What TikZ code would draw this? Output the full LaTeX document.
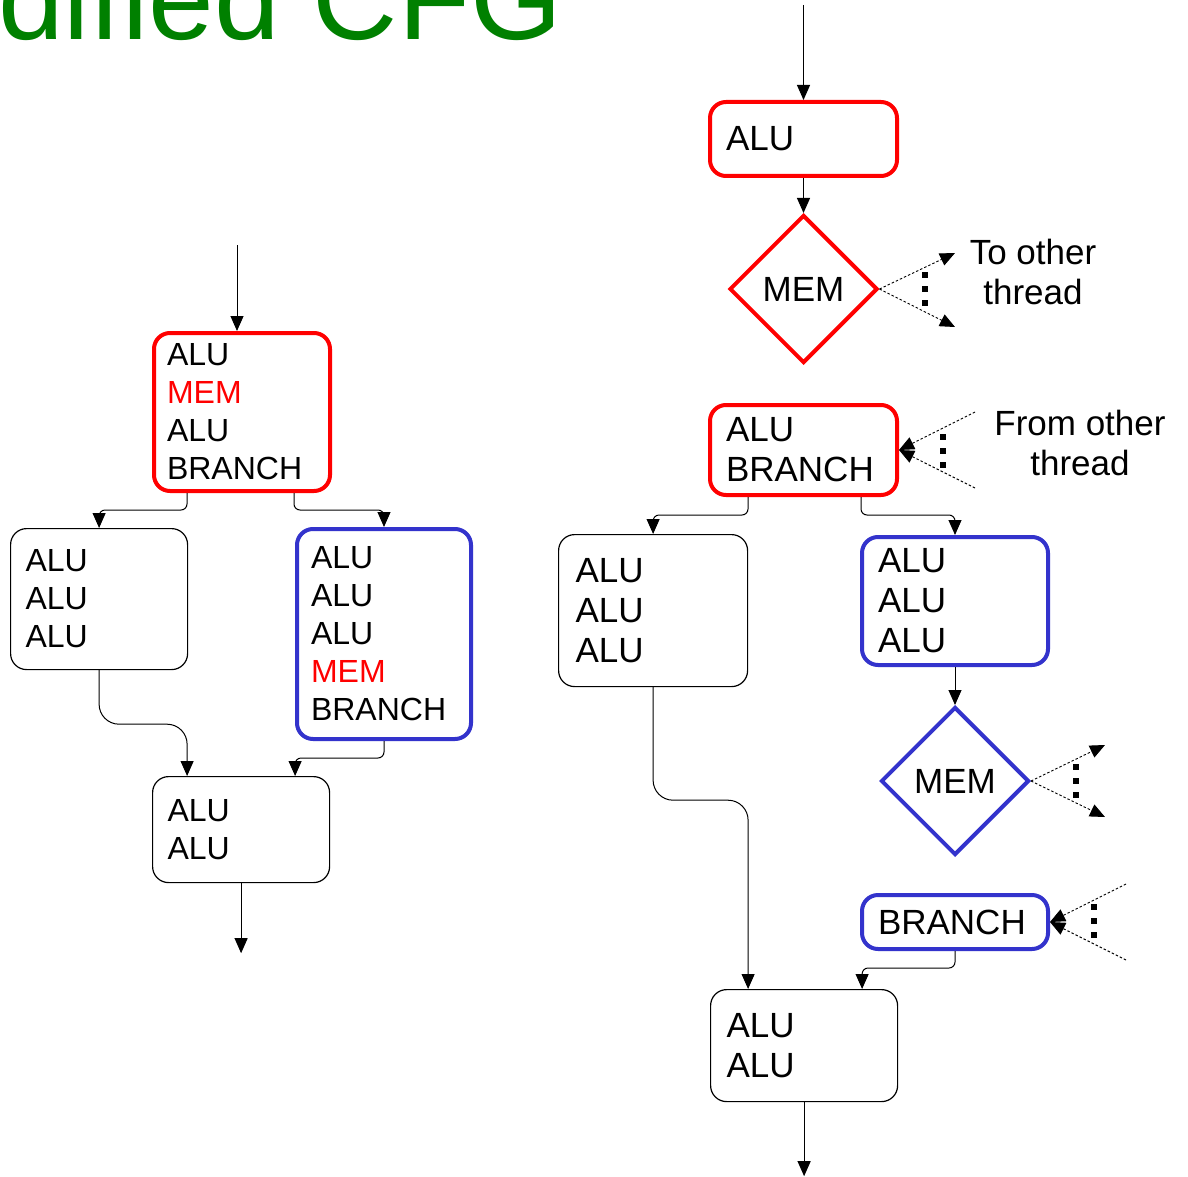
\documentclass[tikz,border=0pt]{standalone}
\usepackage{fontspec}
\setmainfont{Liberation Sans}
\usetikzlibrary{arrows.meta,shapes.geometric}
\definecolor{cfgred}{RGB}{255,0,0}
\definecolor{cfgblue}{RGB}{51,51,204}
\definecolor{cfggreen}{RGB}{0,128,0}
\newcommand\leftsz{\fontsize{32}{38}\selectfont}
\newcommand\rightsz{\fontsize{35}{40}\selectfont}

\begin{document}
\begin{tikzpicture}[x=1pt,y=-1pt,
  blk/.style={draw, rounded corners=16pt, anchor=north west, align=left, inner ysep=0pt},
  thinblk/.style={blk, draw=black, line width=1.2pt},
  redblk/.style={blk, draw=cfgred, line width=4pt},
  blueblk/.style={blk, draw=cfgblue, line width=4pt},
  memdia/.style={diamond, draw, line width=4pt, minimum size=148pt, inner sep=0pt, font=\rightsz},
  arr/.style={-{Triangle[width=13pt,length=15pt]}, line width=1pt},
  link/.style={arr, rounded corners=6pt},
  sbend/.style={arr, rounded corners=20pt},
  threadarr/.style={-{Triangle[width=13pt,length=15pt]}, line width=0.9pt, dash pattern=on 2.5pt off 2pt},
  sqdots/.style={line width=6pt, dash pattern=on 6pt off 8pt},
  note/.style={align=center, font=\rightsz, inner sep=0pt}
]
\fill[white] (0,0) rectangle (1188,1177);
\useasboundingbox (0,0) rectangle (1188,1177);

% heading, cut by the page edge
\begin{scope}
\clip (0,0) rectangle (1188,1177);
\node[anchor=base west, inner sep=0pt, text=cfggreen, font=\fontsize{118}{120}\selectfont] (title) at (-166,40) {Modified CFG};
\end{scope}

% ---------------- left: original blocks ----------------
\node[redblk, font=\leftsz, minimum width=176pt, minimum height=158pt, inner xsep=13pt, text width=150pt] (B1) at (152,331)
  {ALU\\\textcolor{cfgred}{MEM}\\ALU\\BRANCH};
\node[thinblk, font=\leftsz, minimum width=177pt, minimum height=141pt, inner xsep=15pt, text width=147pt] (B2) at (10,528)
  {ALU\\ALU\\ALU};
\node[blueblk, font=\leftsz, minimum width=174pt, minimum height=210pt, inner xsep=14pt, text width=146pt] (B3) at (295,527)
  {ALU\\ALU\\ALU\\\textcolor{cfgred}{MEM}\\BRANCH};
\node[thinblk, font=\leftsz, minimum width=177pt, minimum height=106pt, inner xsep=15pt, text width=147pt] (B4) at (152,776)
  {ALU\\ALU};

\coordinate (inL) at (237,245);
\draw[arr] (inL) -- (inL |- B1.north);
\draw[link] ([xshift=-55pt]B1.south) -- ++(0,17) -| (B2.north);
\draw[link] ([xshift=52pt]B1.south) -- ++(0,17) -| (B3.north);
\draw[sbend] (B2.south) -- ++(0,54) -| ([xshift=-54pt]B4.north);
\draw[link] (B3.south) -- ++(0,17) -| ([xshift=54pt]B4.north);
\draw[arr] (B4.south) -- ++(0,70);

% ---------------- right: split blocks ----------------
\node[redblk, font=\rightsz, minimum width=187pt, minimum height=74pt, inner xsep=16pt, text width=155pt] (R1) at (708,100)
  {ALU};
\node[memdia, draw=cfgred] (D1) at (803.5,289) {MEM};
\node[redblk, font=\rightsz, minimum width=187pt, minimum height=90pt, inner xsep=16pt, text width=155pt] (R2) at (708,403)
  {ALU\\BRANCH};
\node[thinblk, font=\rightsz, minimum width=189pt, minimum height=152pt, inner xsep=17pt, text width=155pt] (R3) at (558,534)
  {ALU\\ALU\\ALU};
\node[blueblk, font=\rightsz, minimum width=186pt, minimum height=128pt, inner xsep=16pt, text width=154pt] (R4) at (860,535)
  {ALU\\ALU\\ALU};
\node[memdia, draw=cfgblue] (D2) at (955,781) {MEM};
\node[blueblk, font=\rightsz, minimum width=186pt, minimum height=54pt, inner xsep=16pt, text width=154pt] (R5) at (860,893)
  {BRANCH};
\node[thinblk, font=\rightsz, minimum width=187pt, minimum height=112pt, inner xsep=16pt, text width=155pt] (R6) at (710,989)
  {ALU\\ALU};

\node[note] (tothr) at (1033,272) {To other\\thread};
\node[note] (fromthr) at (1080,442.5) {From other\\thread};

\coordinate (inR) at (803.5,5);
\draw[arr] (inR) -- (R1.north);
\draw[arr] (R1.south) -- (D1.north);

% hand-off to the other thread after the first MEM
\coordinate (out1a) at (955,253);
\coordinate (out1b) at (955,327);
\coordinate (dots1a) at (925,272);
\coordinate (dots1b) at (925,306);
\draw[threadarr] (D1.east) -- (out1a);
\draw[threadarr] (D1.east) -- (out1b);
\draw[sqdots] (dots1a) -- (dots1b);

% resume from the other thread
\coordinate (in1a) at (975,412);
\coordinate (in1b) at (975,488);
\coordinate (dots2a) at (943,434);
\coordinate (dots2b) at (943,468);
\draw[threadarr] (in1a) -- (R2.east);
\draw[threadarr] (in1b) -- (R2.east);
\draw[sqdots] (dots2a) -- (dots2b);

\draw[link] ([xshift=-55.5pt]R2.south) -- ++(0,18) -| (R3.north);
\draw[link] ([xshift=57.5pt]R2.south) -- ++(0,18) -| (R4.north);
\draw[arr] (R4.south) -- (D2.north);

% hand-off after the second MEM
\coordinate (out2a) at (1105,745);
\coordinate (out2b) at (1105,817);
\coordinate (dots3a) at (1076,764);
\coordinate (dots3b) at (1076,798);
\draw[threadarr] (D2.east) -- (out2a);
\draw[threadarr] (D2.east) -- (out2b);
\draw[sqdots] (dots3a) -- (dots3b);

% resume before the BRANCH
\coordinate (in2a) at (1126,884);
\coordinate (in2b) at (1126,960);
\coordinate (dots4a) at (1094,904);
\coordinate (dots4b) at (1094,938);
\draw[threadarr] (in2a) -- (R5.east);
\draw[threadarr] (in2b) -- (R5.east);
\draw[sqdots] (dots4a) -- (dots4b);

\draw[link] (R5.south) -- ++(0,17) -| ([xshift=58pt]R6.north);
\draw[sbend] (R3.south) -- ++(0,113) -| ([xshift=-56pt]R6.north);
\draw[arr] (R6.south) -- ++(0,74);
\end{tikzpicture}
\end{document}
